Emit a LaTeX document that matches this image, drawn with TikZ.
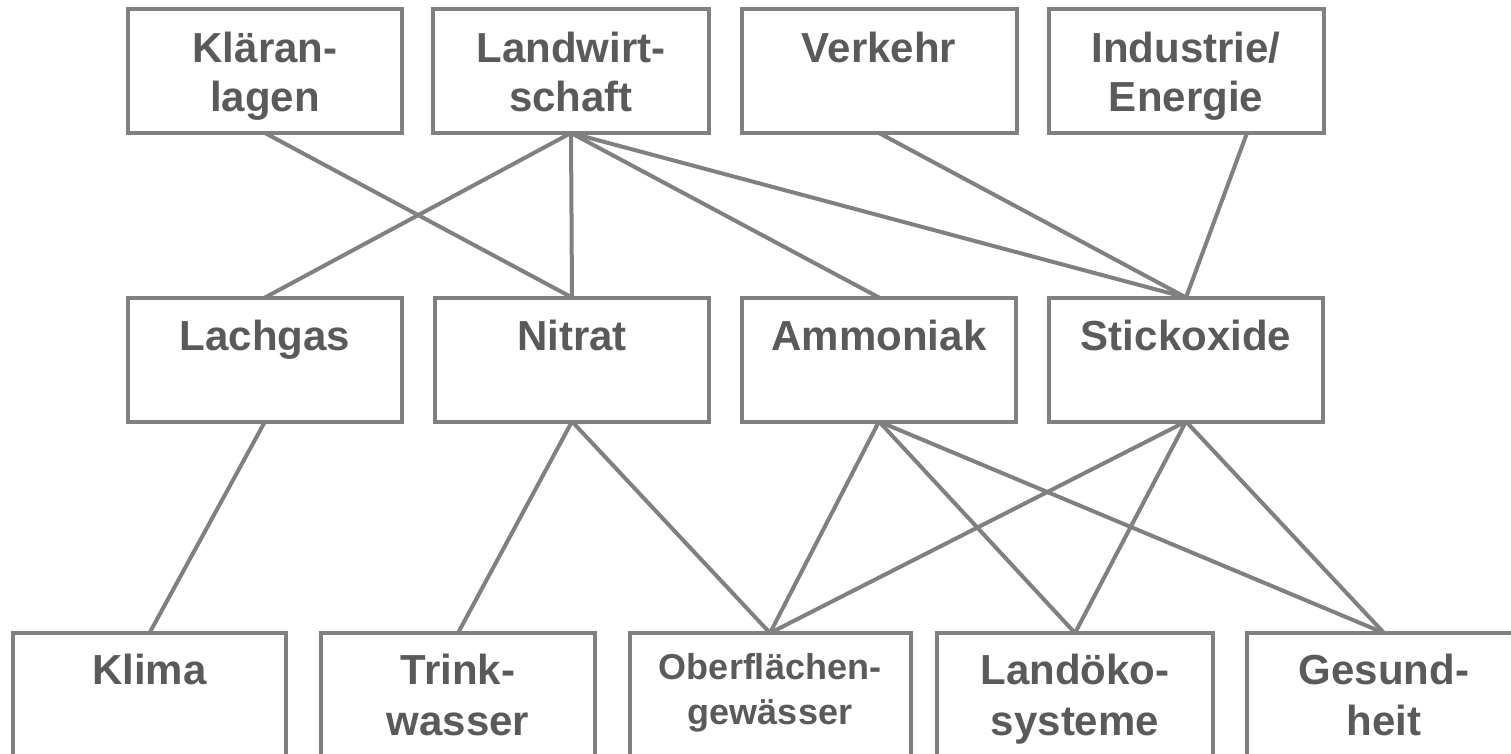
\documentclass[tikz,border=0pt]{standalone}
\usepackage{fontspec}
\setmainfont{Liberation Sans}
\usetikzlibrary{calc}
\definecolor{edgegray}{HTML}{808080}
\definecolor{txtgray}{HTML}{5A5A5A}
\newcommand{\boxtext}[5]{\parbox[c][124pt][t]{#5}{\centering\fontsize{#1}{#3}\selectfont\bfseries\color{txtgray}\rule{0pt}{#2}#4}}
\tikzset{
  blk/.style={draw=edgegray, line width=4pt, rectangle, inner sep=0pt, outer sep=0pt},
  conn/.style={draw=edgegray, line width=4pt}
}
\begin{document}
\begin{tikzpicture}[x=1pt,y=-1pt]
\useasboundingbox (0,0) rectangle (1511,754);
\clip (0,0) rectangle (1511,754);
\fill[white] (0,0) rectangle (1511,754);
% top row
\node[blk] (kl)  at (265,71)  {\boxtext{42pt}{54pt}{49pt}{Kläran-\\lagen}{274pt}};
\node[blk] (lw)  at (571,71)  {\boxtext{42pt}{54pt}{49pt}{Landwirt-\\schaft}{276pt}};
\node[blk] (vk)  at (879,71)  {\boxtext{42pt}{54pt}{49pt}{Verkehr}{275pt}};
\node[blk] (ind) at (1186,71) {\boxtext{42pt}{54pt}{49pt}{Industrie/\\Energie}{275pt}};
% middle row
\node[blk] (lg)  at (265,359.5)  {\boxtext{42pt}{53pt}{49pt}{Lachgas}{274pt}};
\node[blk] (ni)  at (572,359.5)  {\boxtext{42pt}{53pt}{49pt}{Nitrat}{274pt}};
\node[blk] (am)  at (879,359.5)  {\boxtext{42pt}{53pt}{49pt}{Ammoniak}{274pt}};
\node[blk] (st)  at (1186,359.5) {\boxtext{42pt}{53pt}{49pt}{Stickoxide}{274pt}};
% bottom row
\node[blk] (kli) at (149.5,695) {\boxtext{42pt}{51pt}{51pt}{Klima}{273pt}};
\node[blk] (tw)  at (458,695)   {\boxtext{42pt}{51pt}{51pt}{Trink-\\wasser}{274pt}};
\node[blk] (ob)  at (770,695)   {\boxtext{36pt}{46pt}{45pt}{Oberflächen-\\gewässer}{281pt}};
\node[blk] (lo)  at (1075,695)  {\boxtext{42pt}{51pt}{51pt}{Landöko-\\systeme}{276pt}};
\node[blk] (ge)  at (1384,695)  {\boxtext{42pt}{51pt}{51pt}{Gesund-\\heit}{274pt}};
% connectors top -> middle
\draw[conn] (kl.south) -- (ni.north);
\draw[conn] (lw.south) -- (lg.north);
\draw[conn] (lw.south) -- (ni.north);
\draw[conn] (lw.south) -- (am.north);
\draw[conn] (lw.south) -- (st.north);
\draw[conn] (vk.south) -- (st.north);
\draw[conn] ($(ind.south)+(61,0)$) -- (st.north);
% connectors middle -> bottom
\draw[conn] (lg.south) -- (kli.north);
\draw[conn] (ni.south) -- (tw.north);
\draw[conn] (ni.south) -- (ob.north);
\draw[conn] (am.south) -- (ob.north);
\draw[conn] (am.south) -- (lo.north);
\draw[conn] (am.south) -- (ge.north);
\draw[conn] (st.south) -- (ob.north);
\draw[conn] (st.south) -- (lo.north);
\draw[conn] (st.south) -- (ge.north);
\end{tikzpicture}
\end{document}
